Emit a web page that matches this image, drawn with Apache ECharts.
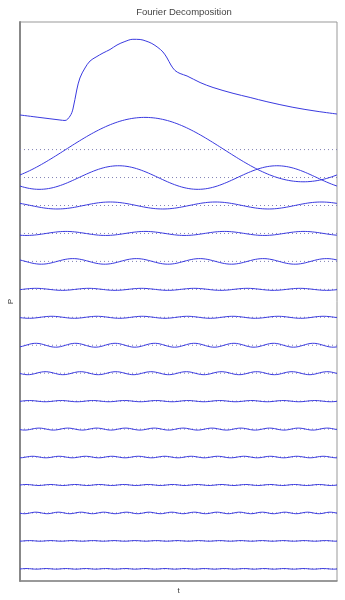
<!DOCTYPE html>
<html>
<head>
<meta charset="utf-8">
<script src="https://cdn.jsdelivr.net/npm/echarts@6/dist/echarts.min.js"></script>
<style>
html,body{margin:0;padding:0;background:#fff;}
#chart{width:345px;height:600px;}
</style>
</head>
<body>
<div id="chart"></div>
<script>
// Original signal P(t), t in one period [0,1]
var signalT = [0, .063, .126, .142, .158, .167, .179, .189, .205, .221, .240, .262, .284, .306, .331, .356, .379, .397, .416, .435, .451, .464, .476, .489, .505, .527, .568, .609, .672, .726, .779, .861, .937, 1.0];
var signalP = [0.238, 0.148, 0.059, 0.041, 0.202, 0.452, 1.132, 1.561, 1.919, 2.170, 2.313, 2.456, 2.581, 2.742, 2.867, 2.946, 2.939, 2.885, 2.796, 2.653, 2.492, 2.277, 2.027, 1.830, 1.722, 1.633, 1.400, 1.222, 1.014, 0.864, 0.713, 0.513, 0.370, 0.273];

// Harmonics 1..16: amplitude and time of a peak
var harmonicNumber = [1, 2, 3, 4, 5, 6, 7, 8, 9, 10, 11, 12, 13, 14, 15, 16];
var harmonicAmp = [1.152, 0.422, 0.125, 0.072, 0.100, 0.036, 0.036, 0.070, 0.054, 0.022, 0.036, 0.028, 0.018, 0.028, 0.011, 0.011];
var harmonicPeakT = [0.394, 0.311, 0.284, 0.145, 0.167, 0.05, 0.10, 0.05, 0.08, 0.03, 0.06, 0.04, 0.02, 0.05, 0.03, 0.02];
var harmonicOffset = [-1, -2, -3, -4, -5, -6, -7, -8, -9, -10, -11, -12, -13, -14, -15, -16];

var chart = echarts.init(document.getElementById('chart'));
var lineColor = '#3a3ae0';
var series = [];

var sig = signalT.map(function (t, i) { return [t, signalP[i]]; });
series.push({
  type: 'line', data: sig, smooth: 0.35, showSymbol: false, symbol: 'none',
  lineStyle: { color: lineColor, width: 1 }, z: 3
});

var N = 400;
harmonicNumber.forEach(function (k, j) {
  var pts = [];
  for (var i = 0; i <= N; i++) {
    var t = i / N;
    pts.push([t, harmonicOffset[j] + harmonicAmp[j] * Math.cos(2 * Math.PI * k * (t - harmonicPeakT[j]))]);
  }
  series.push({
    type: 'line', data: [[0, harmonicOffset[j]], [1, harmonicOffset[j]]],
    showSymbol: false, symbol: 'none', silent: true,
    lineStyle: { color: '#8080b4', width: 1, type: [1, 3] }, z: 2
  });
  series.push({
    type: 'line', data: pts, showSymbol: false, symbol: 'none',
    lineStyle: { color: lineColor, width: 1 }, z: 3
  });
});

chart.setOption({
  animation: false,
  backgroundColor: '#fff',
  title: {
    text: 'Fourier Decomposition', left: 179, top: 2, textAlign: 'center',
    textStyle: { fontFamily: 'Liberation Sans, Arial, sans-serif', fontSize: 9.5, fontWeight: 'normal', color: '#444' }
  },
  grid: { left: 20, right: 8, top: 22, bottom: 19, show: true, borderColor: '#999', borderWidth: 1, containLabel: false, outerBoundsMode: 'none' },
  xAxis: {
    type: 'value', min: 0, max: 1,
    name: 't', nameLocation: 'middle', nameGap: 6,
    nameTextStyle: { fontFamily: 'Liberation Sans, Arial, sans-serif', fontSize: 8, color: '#333' },
    axisLine: { show: true, onZero: false, lineStyle: { color: '#888', width: 1.5 } },
    axisTick: { show: false }, axisLabel: { show: false }, splitLine: { show: false }
  },
  yAxis: {
    type: 'value', min: -16.435, max: 3.565,
    name: 'P', nameLocation: 'middle', nameGap: 5, nameRotate: 90,
    nameTextStyle: { fontFamily: 'Liberation Sans, Arial, sans-serif', fontSize: 8, color: '#333' },
    axisLine: { show: true, onZero: false, lineStyle: { color: '#888', width: 2 } },
    axisTick: { show: false }, axisLabel: { show: false }, splitLine: { show: false }
  },
  series: series
});
</script>
</body>
</html>
